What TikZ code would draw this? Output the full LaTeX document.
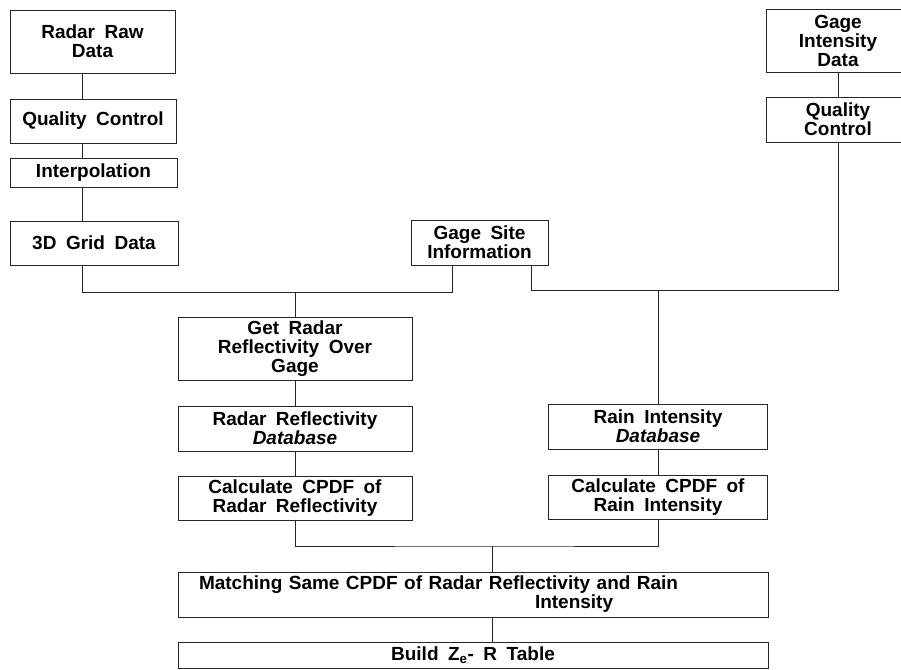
\documentclass[tikz,border=0pt]{standalone}
\usepackage{fontspec}
\setmainfont{Liberation Sans}[WordSpace=1.8]
\newcommand{\wsp}{\spaceskip=0.5em plus 0.1em minus 0.05em\relax}
\newcommand{\nsp}{\spaceskip=0.34em plus 0.05em minus 0.05em\relax}
\begin{document}
\begin{tikzpicture}[x=1pt,y=-1pt,
  box/.style={draw=black!85, line width=0.8pt, rectangle, inner sep=0pt, align=center,
    font=\fontsize{19}{19}\selectfont\bfseries\wsp},
  conn/.style={draw=black!85, line width=0.8pt}]
\useasboundingbox (0,0) rectangle (901,669);
\fill[white] (0,0) rectangle (901,669);
% left column
\node[box, minimum width=165, minimum height=63] (rraw) at (92.5,41.5) {Radar Raw\\Data};
\node[box, minimum width=166, minimum height=44] (qc1) at (93,121) {Quality Control};
\node[box, minimum width=167, minimum height=29] (interp) at (93.5,172.5) {Interpolation};
\node[box, minimum width=168, minimum height=44] (grid) at (94,243) {3D Grid Data};
% gage site and right column
\node[box, minimum width=137, minimum height=45] (gsite) at (479.5,242.5) {Gage Site\\Information};
\node[box, minimum width=143, minimum height=63] (gint) at (838,40.5) {Gage\\Intensity\\Data};
\node[box, minimum width=143, minimum height=45] (qc2) at (838,119.5) {Quality\\Control};
% middle
\node[box, minimum width=234, minimum height=63] (getr) at (295,348.5) {Get Radar\\Reflectivity Over\\Gage};
\node[box, minimum width=234, minimum height=45] (rrdb) at (295,428.5) {Radar Reflectivity\\\textit{Database}};
\node[box, minimum width=234, minimum height=44] (cpdfr) at (295,498) {Calculate CPDF of\\Radar Reflectivity};
\node[box, minimum width=219, minimum height=45] (ridb) at (658,426.5) {Rain Intensity\\\textit{Database}};
\node[box, minimum width=219, minimum height=44] (cpdfi) at (658,497) {Calculate CPDF of\\Rain Intensity};
% bottom
\node[box, minimum width=590, minimum height=45, text width=548, align=left] (match) at (473,594.5)
  {\nsp Matching Same CPDF of Radar Reflectivity and Rain\\\hspace*{336pt}Intensity};
\node[box, minimum width=590, minimum height=26] (build) at (473,655) {Build Z\textsubscript{e}- R Table};
% junction coordinates
\coordinate (lx) at (82,0);
\coordinate (j1) at (295,292);
\coordinate (j2) at (452,292);
\coordinate (k1) at (531,290);
\coordinate (k2) at (838,290);
\coordinate (m2) at (492,546);
% connectors
\draw[conn] (rraw.south -| lx) -- (qc1.north -| lx);
\draw[conn] (qc1.south -| lx) -- (interp.north -| lx);
\draw[conn] (interp.south -| lx) -- (grid.north -| lx);
\draw[conn] (grid.south -| lx) |- (j2) -- (gsite.south -| j2);
\draw[conn] (j1) -- (getr.north);
\draw[conn] (gint.south) -- (qc2.north);
\draw[conn] (gsite.south -| k1) |- (k2) -- (qc2.south);
\draw[conn] (ridb.north |- k1) -- (ridb.north);
\draw[conn] (getr.south) -- (rrdb.north);
\draw[conn] (rrdb.south) -- (cpdfr.north);
\draw[conn] (ridb.south) -- (cpdfi.north);
\draw[conn] (cpdfr.south) |- (m2) -| (cpdfi.south);
\draw[conn] (m2) -- (match.north -| m2);
\draw[conn] (match.south -| m2) -- (build.north -| m2);
\end{tikzpicture}
\end{document}
